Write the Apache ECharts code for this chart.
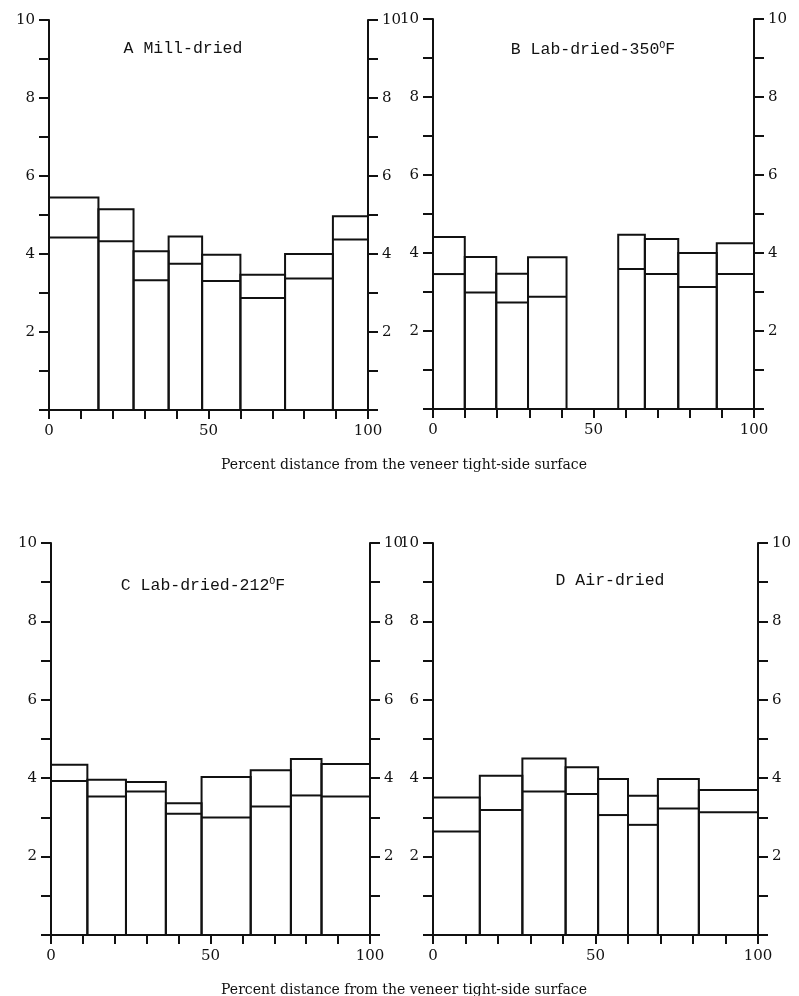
<!DOCTYPE html>
<html>
<head>
<meta charset="utf-8">
<script src="https://cdn.jsdelivr.net/npm/echarts@6/dist/echarts.min.js"></script>
<style>
html,body{margin:0;padding:0;background:#fff;}
#chart{width:799px;height:996px;}
</style>
</head>
<body>
<div id="chart"></div>
<script>
// ---- data ----
var panelTitles = ['A Mill-dried', 'B Lab-dried-350{sup|O}F', 'C Lab-dried-212{sup|O}F', 'D Air-dried'];
var xAxisTitle = 'Percent distance from the veneer tight-side surface';
var xTickLabels = [0, 50, 100];
var yTickLabels = [2, 4, 6, 8, 10];

var aEdges = [0, 15.5, 26.5, 37.5, 48, 60, 74, 89, 100];
var aOuter = [5.45, 5.15, 4.07, 4.45, 3.98, 3.47, 4.0, 4.97];
var aInner = [4.42, 4.33, 3.33, 3.75, 3.31, 2.87, 3.37, 4.37];

var bEdges = [0, 9.9, 19.7, 29.6, 41.6, 57.7, 66, 76.4, 88.4, 100];
var bOuter = [4.41, 3.9, 3.47, 3.89, null, 4.47, 4.36, 4.0, 4.25];
var bInner = [3.46, 2.99, 2.73, 2.88, null, 3.59, 3.46, 3.13, 3.46];

var cEdges = [0, 11.4, 23.5, 36, 47.2, 62.6, 75.2, 84.8, 100];
var cOuter = [4.34, 3.96, 3.9, 3.36, 4.03, 4.2, 4.49, 4.36];
var cInner = [3.93, 3.53, 3.66, 3.09, 3.0, 3.28, 3.56, 3.53];

var dEdges = [0, 14.4, 27.5, 40.8, 50.8, 60, 69.2, 81.8, 100];
var dOuter = [3.51, 4.06, 4.5, 4.28, 3.98, 3.55, 3.98, 3.7];
var dInner = [2.64, 3.19, 3.66, 3.6, 3.06, 2.81, 3.23, 3.13];

// ---- build ----
function bins(edges, outer, inner) {
  var out = [];
  for (var i = 0; i < outer.length; i++) {
    if (outer[i] == null) continue;
    out.push([edges[i], edges[i + 1], outer[i], inner[i]]);
  }
  return out;
}
var panelData = [
  bins(aEdges, aOuter, aInner),
  bins(bEdges, bOuter, bInner),
  bins(cEdges, cOuter, cInner),
  bins(dEdges, dOuter, dInner)
];

var INK = '#111';
var numFont = 'DejaVu Serif';
var grids = [
  {left: 49, top: 20, width: 319, height: 390},
  {left: 433, top: 19, width: 321, height: 390},
  {left: 51, top: 543, width: 319, height: 392},
  {left: 433, top: 543, width: 325, height: 392}
];
var titlePos = [[178, 35], [588, 35], [198, 571], [605, 567]];

function renderItem(params, api) {
  var x0 = api.value(0), x1 = api.value(1), outer = api.value(2), inner = api.value(3);
  var p0 = api.coord([x0, 0]);
  var p1 = api.coord([x1, outer]);
  var pi = api.coord([x1, inner]);
  return {
    type: 'group',
    children: [
      {type: 'rect', shape: {x: p0[0], y: p1[1], width: p1[0] - p0[0], height: p0[1] - p1[1]},
       style: {fill: 'none', stroke: INK, lineWidth: 2}},
      {type: 'line', shape: {x1: p0[0], y1: pi[1], x2: p1[0], y2: pi[1]},
       style: {stroke: INK, lineWidth: 2}}
    ]
  };
}

var xAxes = [], yAxes = [], series = [], titles = [];
grids.forEach(function (g, i) {
  xAxes.push({
    type: 'value', gridIndex: i, min: 0, max: 100, interval: 10,
    axisLine: {show: true, lineStyle: {color: INK, width: 2}},
    axisTick: {show: true, length: 9, lineStyle: {color: INK, width: 2}},
    splitLine: {show: false},
    axisLabel: {
      color: INK, fontFamily: numFont, fontSize: 15, margin: 14,
      formatter: function (v) { return xTickLabels.indexOf(v) >= 0 ? String(v) : ''; }
    }
  });
  ['left', 'right'].forEach(function (pos) {
    yAxes.push({
      type: 'value', gridIndex: i, position: pos, min: 0, max: 10, interval: 1,
      axisLine: {show: true, onZero: false, lineStyle: {color: INK, width: 2}},
      axisTick: {show: true, length: 10, lineStyle: {color: INK, width: 2}},
      splitLine: {show: false},
      axisLabel: {
        color: INK, fontFamily: numFont, fontSize: 15, margin: 14,
        formatter: function (v) { return yTickLabels.indexOf(v) >= 0 ? String(v) : ''; }
      }
    });
  });
  series.push({
    type: 'custom', xAxisIndex: i, yAxisIndex: i * 2,
    renderItem: renderItem,
    encode: {x: [0, 1], y: [2, 3]},
    data: panelData[i],
    silent: true
  });
  titles.push({
    text: panelTitles[i], left: titlePos[i][0], top: titlePos[i][1], textAlign: 'center',
    textStyle: {
      color: INK, fontFamily: 'Liberation Mono', fontSize: 16.5, fontWeight: 'normal',
      rich: {sup: {fontFamily: 'Liberation Mono', fontSize: 10, color: INK, padding: [0, 0, 10, 0]}}
    }
  });
});
titles.push({
  text: xAxisTitle, left: 399, top: 453, textAlign: 'center',
  textStyle: {color: INK, fontFamily: numFont, fontSize: 14, fontWeight: 'normal'}
});
titles.push({
  text: xAxisTitle, left: 399, top: 978, textAlign: 'center',
  textStyle: {color: INK, fontFamily: numFont, fontSize: 14, fontWeight: 'normal'}
});

var chart = echarts.init(document.getElementById('chart'), null, {renderer: 'canvas'});
chart.setOption({
  backgroundColor: '#fff',
  animation: false,
  title: titles,
  grid: grids,
  xAxis: xAxes,
  yAxis: yAxes,
  series: series
});
</script>
</body>
</html>
